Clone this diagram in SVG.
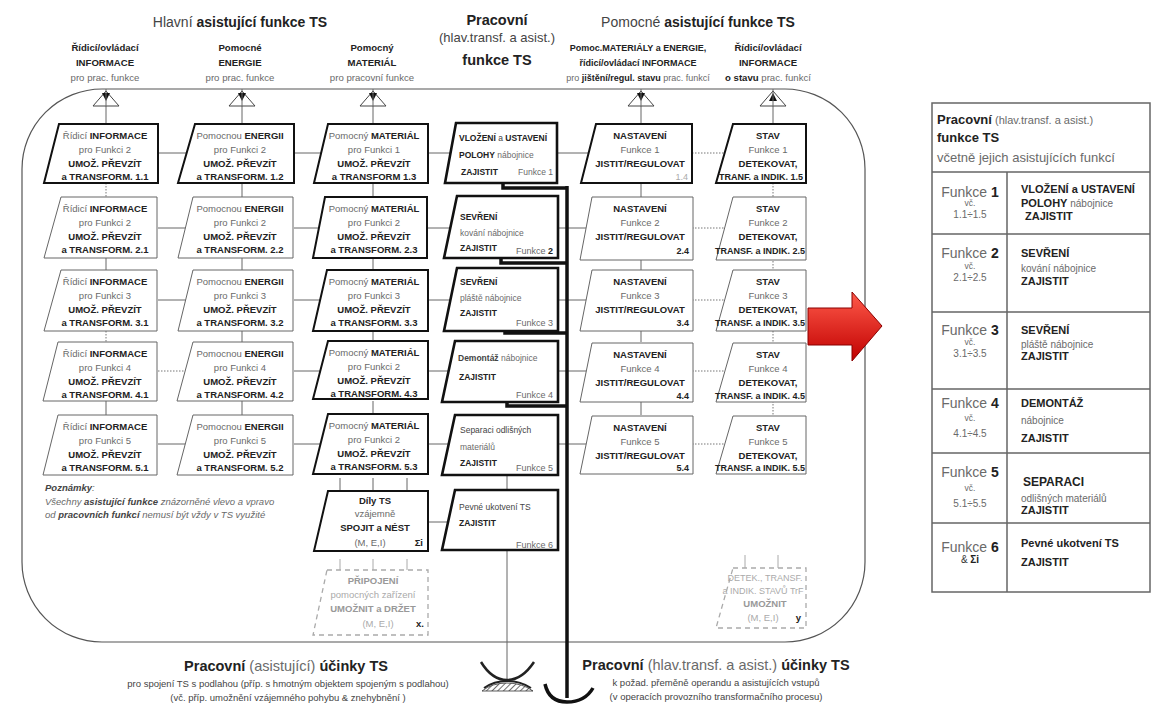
<svg xmlns="http://www.w3.org/2000/svg" width="1154" height="704" viewBox="0 0 1154 704">
<defs>
<style>
text{font-family:"Liberation Sans",Arial,sans-serif;fill:#444}
.b{font-weight:bold;fill:#222}
.g{fill:#6a6a6a}
.c{text-anchor:middle}
.e{text-anchor:end}
.s{font-size:9.5px}
.f{font-size:8.5px}
.h{font-size:9px}
.hh{font-size:9.6px}
.i{font-style:italic}
.p1{fill:#fff;stroke:#111;stroke-width:2}
.p2{fill:#fff;stroke:#666;stroke-width:1}
.pf{fill:#fff;stroke:#111;stroke-width:2.6}
.pd{fill:#fff;stroke:#aaa;stroke-width:1.3;stroke-dasharray:5 4}
.ln{stroke:#666;stroke-width:1;fill:none}
.dt{stroke:#777;stroke-width:1;stroke-dasharray:1.5 1.5;fill:none}
.tk{stroke:#111;stroke-width:3.5;fill:none}
.tri{fill:#fff;stroke:#444;stroke-width:1}
.tb{fill:none;stroke:#666;stroke-width:1.5}
</style>
<linearGradient id="rg" x1="0" y1="0" x2="0" y2="1"><stop offset="0" stop-color="#ff5a4a"/><stop offset="1" stop-color="#c00000"/></linearGradient>
<pattern id="hatch" width="4" height="4" patternUnits="userSpaceOnUse" patternTransform="rotate(45)"><line x1="0" y1="0" x2="0" y2="4" stroke="#333" stroke-width="1.4"/></pattern>
</defs>
<rect width="1154" height="704" fill="#fff"/>

<!-- frame -->
<path id="frame" d="M102 89 H785 A80 80 0 0 1 865 169 V562 A80 80 0 0 1 785 642 H102 A80 80 0 0 1 22 562 V169 A80 80 0 0 1 102 89 Z" fill="none" stroke="#555" stroke-width="1.2"/>

<!-- headers -->
<g id="headers">
<text x="240" y="27" class="c" font-size="14"><tspan>Hlavní </tspan><tspan class="b">asistující funkce TS</tspan></text>
<text x="698" y="27" class="c" font-size="14"><tspan>Pomocné </tspan><tspan class="b">asistující funkce TS</tspan></text>
<text x="497" y="25" class="c b" font-size="14.5">Pracovní</text>
<text x="497" y="42" class="c" font-size="13">(hlav.transf. a asist.)</text>
<text x="497" y="65" class="c b" font-size="14.5">funkce TS</text>
<g class="hh">
<text x="105" y="51" class="c b">Řídicí/ovládací</text><text x="105" y="66" class="c b">INFORMACE</text><text x="105" y="81" class="c g">pro prac. funkce</text>
<text x="240" y="51" class="c b">Pomocné</text><text x="240" y="66" class="c b">ENERGIE</text><text x="240" y="81" class="c g">pro prac. funkce</text>
<text x="372" y="51" class="c b">Pomocný</text><text x="372" y="66" class="c b">MATERIÁL</text><text x="372" y="81" class="c g">pro pracovní funkce</text>
<text x="638" y="51" class="c b" font-size="9">Pomoc.MATERIÁLY a ENERGIE,</text><text x="638" y="66" class="c b" font-size="9">řídicí/ovládací INFORMACE</text><text x="638" y="81" class="c" font-size="9"><tspan class="g">pro </tspan><tspan class="b">jištění/regul. stavu</tspan><tspan class="g"> prac. funkcí</tspan></text>
<text x="768" y="51" class="c b">Řídicí/ovládací</text><text x="768" y="66" class="c b">INFORMACE</text><text x="768" y="81" class="c"><tspan class="b">o stavu</tspan><tspan class="g"> prac. funkcí</tspan></text>
</g>
</g>

<!-- connectors -->
<g id="connectors">
<path class="ln" d="M106 89V124M242 89V124M373 89V124M641 89V124M773 89V124"/>
<path class="dt" d="M106 183V197M106 331V342"/>
<path class="ln" d="M106 258V270M106 401V415"/>
<path class="ln" d="M242 183V197M242 258V270M242 331V342M242 401V415"/>
<path class="ln" d="M373 183V197M373 258V270M373 331V342M373 401V415"/>
<path class="ln" d="M641 183V197M641 258V270M641 331V342M641 401V415"/>
<path class="dt" d="M773 183V197M773 258V270M773 331V342M773 401V415"/>
<path class="ln" d="M158 153H187M158 228H187M158 300H187M158 444H187"/>
<path class="dt" d="M158 371H187"/>
<path class="ln" d="M294 153H321M294 228H321M294 300H321M294 371H321M294 444H321"/>
<path class="ln" d="M428 153H450M428 228H450M428 300H450M428 371H450M428 444H450M428 522H450"/>
<path class="ln" d="M557 153H589M557 228H589M557 300H589M557 371H589M557 444H589"/>
<path class="dt" d="M692 153H725M692 228H725M692 300H725M692 371H725M692 444H725"/>
<path class="ln" d="M340 478V491M373 478V491M407 478V491" stroke="#999"/>
<path d="M340 559V570M373 559V570M407 559V570M745 555V568M778 555V568" stroke="#aaa" stroke-width="1" fill="none"/>
<path class="ln" d="M507 475V491M507 551V679"/>
<path class="tk" d="M503 183V188H567M501 258V263H567M505 331V333H567M507 401V406H567"/>
<path class="tk" d="M567 186V698"/>
<path class="tk" d="M545 684Q549 702 567 702Q585 702 593 688"/>
<path d="M482 691Q492 683 507 683Q522 683 533 691Z" fill="url(#hatch)" stroke="#333" stroke-width="0.8"/>
<path d="M481 662Q492 680 507 680Q522 680 534 662" fill="none" stroke="#222" stroke-width="2.5"/>
<path d="M484 688Q494 681 507 681Q520 681 531 688" fill="none" stroke="#222" stroke-width="2"/>
</g>

<!-- top triangles -->
<g id="triangles">
<path class="tri" d="M106 91L119 106H93Z"/><path d="M102 93H110L106 101Z" fill="#111"/>
<path class="tri" d="M242 91L255 106H229Z"/><path d="M238 93H246L242 101Z" fill="#111"/>
<path class="tri" d="M373 91L386 106H360Z"/><path d="M369 93H377L373 101Z" fill="#111"/>
<path class="tri" d="M641 91L654 106H628Z"/><path d="M637 93H645L641 101Z" fill="#111"/>
<path class="tri" d="M773 91L786 106H760Z"/><path d="M769 101H777L773 93Z" fill="#111"/>
<path class="ln" d="M106 91V106M242 91V106M373 91V106M641 91V106M773 91V106"/>
</g>

<!-- column 1 -->
<g id="n11"><path class="p1" d="M59 124H158V183H44Z"/><text class="s c" x="105" y="139"><tspan class="g">Řídicí </tspan><tspan class="b">INFORMACE</tspan></text><text class="s c g" x="105" y="153">pro Funkci 2</text><text class="s c b" x="105" y="167">UMOŽ. PŘEVZÍT</text><text class="s c b" x="105" y="180">a TRANSFORM.  1.1</text></g>
<g id="n21"><path class="p2" d="M61 197H157V258H44Z"/><text class="s c" x="105" y="212"><tspan class="g">Řídicí </tspan><tspan class="b">INFORMACE</tspan></text><text class="s c g" x="105" y="226">pro Funkci 2</text><text class="s c b" x="105" y="240">UMOŽ. PŘEVZÍT</text><text class="s c b" x="105" y="253">a TRANSFORM. 2.1</text></g>
<g id="n31"><path class="p2" d="M61 270H157V331H44Z"/><text class="s c" x="105" y="285"><tspan class="g">Řídicí </tspan><tspan class="b">INFORMACE</tspan></text><text class="s c g" x="105" y="299">pro Funkci 3</text><text class="s c b" x="105" y="313">UMOŽ. PŘEVZÍT</text><text class="s c b" x="105" y="326">a TRANSFORM. 3.1</text></g>
<g id="n41"><path class="p2" d="M58 342H157V401H43Z"/><text class="s c" x="105" y="357"><tspan class="g">Řídicí </tspan><tspan class="b">INFORMACE</tspan></text><text class="s c g" x="105" y="371">pro Funkci 4</text><text class="s c b" x="105" y="385">UMOŽ. PŘEVZÍT</text><text class="s c b" x="105" y="398">a TRANSFORM. 4.1</text></g>
<g id="n51"><path class="p2" d="M58 415H157V475H43Z"/><text class="s c" x="105" y="430"><tspan class="g">Řídicí </tspan><tspan class="b">INFORMACE</tspan></text><text class="s c g" x="105" y="444">pro Funkci 5</text><text class="s c b" x="105" y="458">UMOŽ. PŘEVZÍT</text><text class="s c b" x="105" y="471">a TRANSFORM. 5.1</text></g>

<!-- column 2 -->
<g id="n12"><path class="p1" d="M195 124H294V183H178Z"/><text class="s c" x="240" y="139"><tspan class="g">Pomocnou </tspan><tspan class="b">ENERGII</tspan></text><text class="s c g" x="240" y="153">pro Funkci 2</text><text class="s c b" x="240" y="167">UMOŽ. PŘEVZÍT</text><text class="s c b" x="240" y="180">a TRANSFORM.  1.2</text></g>
<g id="n22"><path class="p2" d="M193 197H293V258H178Z"/><text class="s c" x="240" y="212"><tspan class="g">Pomocnou </tspan><tspan class="b">ENERGII</tspan></text><text class="s c g" x="240" y="226">pro Funkci 2</text><text class="s c b" x="240" y="240">UMOŽ. PŘEVZÍT</text><text class="s c b" x="240" y="253">a TRANSFORM. 2.2</text></g>
<g id="n32"><path class="p2" d="M193 270H293V331H178Z"/><text class="s c" x="240" y="285"><tspan class="g">Pomocnou </tspan><tspan class="b">ENERGII</tspan></text><text class="s c g" x="240" y="299">pro Funkci 3</text><text class="s c b" x="240" y="313">UMOŽ. PŘEVZÍT</text><text class="s c b" x="240" y="326">a TRANSFORM. 3.2</text></g>
<g id="n42"><path class="p2" d="M193 342H293V401H177Z"/><text class="s c" x="240" y="357"><tspan class="g">Pomocnou </tspan><tspan class="b">ENERGII</tspan></text><text class="s c g" x="240" y="371">pro Funkci 4</text><text class="s c b" x="240" y="385">UMOŽ. PŘEVZÍT</text><text class="s c b" x="240" y="398">a TRANSFORM. 4.2</text></g>
<g id="n52"><path class="p2" d="M193 415H293V475H177Z"/><text class="s c" x="240" y="430"><tspan class="g">Pomocnou </tspan><tspan class="b">ENERGII</tspan></text><text class="s c g" x="240" y="444">pro Funkci 5</text><text class="s c b" x="240" y="458">UMOŽ. PŘEVZÍT</text><text class="s c b" x="240" y="471">a TRANSFORM. 5.2</text></g>

<!-- column 3 -->
<g id="n13"><path class="p1" d="M328 124H428V183H314Z"/><text class="s c" x="374" y="139"><tspan class="g">Pomocný </tspan><tspan class="b">MATERIÁL</tspan></text><text class="s c g" x="374" y="153">pro Funkci 1</text><text class="s c b" x="374" y="167">UMOŽ. PŘEVZÍT</text><text class="s c b" x="374" y="180">a TRANSFORM   1.3</text></g>
<g id="n23"><path class="p1" d="M325 197H427V258H313Z"/><text class="s c" x="374" y="212"><tspan class="g">Pomocný </tspan><tspan class="b">MATERIÁL</tspan></text><text class="s c g" x="374" y="226">pro Funkci 2</text><text class="s c b" x="374" y="240">UMOŽ. PŘEVZÍT</text><text class="s c b" x="374" y="253">a TRANSFORM.   2.3</text></g>
<g id="n33"><path class="p1" d="M327 270H428V331H313Z"/><text class="s c" x="374" y="285"><tspan class="g">Pomocný </tspan><tspan class="b">MATERIÁL</tspan></text><text class="s c g" x="374" y="299">pro Funkci 3</text><text class="s c b" x="374" y="313">UMOŽ. PŘEVZÍT</text><text class="s c b" x="374" y="326">a TRANSFORM.   3.3</text></g>
<g id="n43"><path class="p1" d="M328 341H428V399H313Z"/><text class="s c" x="374" y="356"><tspan class="g">Pomocný </tspan><tspan class="b">MATERIÁL</tspan></text><text class="s c g" x="374" y="370">pro Funkci 2</text><text class="s c b" x="374" y="384">UMOŽ. PŘEVZÍT</text><text class="s c b" x="374" y="397">a TRANSFORM.    4.3</text></g>
<g id="n53"><path class="p1" d="M328 414H428V474H313Z"/><text class="s c" x="374" y="429"><tspan class="g">Pomocný </tspan><tspan class="b">MATERIÁL</tspan></text><text class="s c g" x="374" y="443">pro Funkci 2</text><text class="s c b" x="374" y="457">UMOŽ. PŘEVZÍT</text><text class="s c b" x="374" y="470">a TRANSFORM.    5.3</text></g>
<g id="n63"><path class="p1" d="M328 491H428V551H314Z"/><text class="s c b" x="375" y="504">Díly TS</text><text class="s c g" x="375" y="517">vzájemně</text><text class="s c b" x="375" y="531">SPOJIT a NÉST</text><text class="s c g" x="370" y="546">(M, E,I)</text><text class="s e b" x="423" y="546">Σi</text></g>
<g id="n73"><path class="pd" d="M327 570H428V635H313Z"/><text class="s c b" x="373" y="584" style="fill:#999">PŘIPOJENÍ</text><text class="s c" x="373" y="598" style="fill:#aaa">pomocných zařízení</text><text class="s c b" x="373" y="612" style="fill:#999">UMOŽNIT a DRŽET</text><text class="s c" x="378" y="627" style="fill:#aaa">(M, E,I)</text><text class="s e b" x="424" y="627">x.</text></g>

<!-- working functions -->
<g id="f1"><path class="pf" d="M456 123H557V183H445Z"/><text class="f" x="459" y="141"><tspan class="b">VLOŽENÍ</tspan><tspan> a </tspan><tspan class="b">USTAVENÍ</tspan></text><text class="f" x="459" y="158"><tspan class="b">POLOHY</tspan><tspan class="g"> nábojnice</tspan></text><text class="f b" x="461" y="175">ZAJISTIT</text><text class="f e g" x="553" y="175">Funkce 1</text></g>
<g id="f2"><path class="pf" d="M457 196H558V258H444Z"/><text class="f b" x="460" y="220">SEVŘENÍ</text><text class="f g" x="460" y="236">kování nábojnice</text><text class="f b" x="460" y="251">ZAJISTIT</text><text class="h e" x="553" y="254"><tspan class="g">Funkce </tspan><tspan class="b">2</tspan></text></g>
<g id="f3"><path class="pf" d="M457 268H558V331H444Z"/><text class="f b" x="460" y="285">SEVŘENÍ</text><text class="f g" x="460" y="301">pláště nábojnice</text><text class="f b" x="460" y="316">ZAJISTIT</text><text class="h e g" x="553" y="326">Funkce 3</text></g>
<g id="f4"><path class="pf" d="M455 341H558V402H442Z"/><text class="f" x="458" y="361"><tspan class="b" style="fill:#444">Demontáž</tspan><tspan class="g"> nábojnice</tspan></text><text class="f b" x="459" y="380">ZAJISTIT</text><text class="h e g" x="553" y="398">Funkce 4</text></g>
<g id="f5"><path class="pf" d="M455 415H558V475H442Z"/><text class="f" x="460" y="433" style="fill:#444">Separaci odlišných</text><text class="f g" x="460" y="450" font-size="7.5">materiálů</text><text class="f b" x="460" y="466">ZAJISTIT</text><text class="h e g" x="553" y="471">Funkce 5</text></g>
<g id="f6"><path class="pf" d="M455 490H558V550H442Z"/><text class="f" x="459" y="510" style="fill:#444">Pevné ukotvení TS</text><text class="f b" x="459" y="526">ZAJISTIT</text><text class="h e g" x="553" y="548">Funkce  6</text></g>

<!-- column 5 -->
<g id="n14"><path class="p1" d="M596 124H692V183H581Z"/><text class="s c b" x="640" y="139">NASTAVENÍ</text><text class="s c g" x="640" y="153">Funkce 1</text><text class="s c b" x="640" y="167">JISTIT/REGULOVAT</text><text class="h e" x="688" y="180" style="fill:#aaa">1.4</text></g>
<g id="n24"><path class="p2" d="M592 197H693V260H580Z"/><text class="s c b" x="640" y="212">NASTAVENÍ</text><text class="s c g" x="640" y="226">Funkce 2</text><text class="s c b" x="640" y="240">JISTIT/REGULOVAT</text><text class="h e b" x="689" y="254">2.4</text></g>
<g id="n34"><path class="p2" d="M592 270H693V331H580Z"/><text class="s c b" x="640" y="285">NASTAVENÍ</text><text class="s c g" x="640" y="299">Funkce 3</text><text class="s c b" x="640" y="313">JISTIT/REGULOVAT</text><text class="h e b" x="689" y="326">3.4</text></g>
<g id="n44"><path class="p2" d="M592 343H693V402H580Z"/><text class="s c b" x="640" y="358">NASTAVENÍ</text><text class="s c g" x="640" y="372">Funkce 4</text><text class="s c b" x="640" y="386">JISTIT/REGULOVAT</text><text class="h e b" x="689" y="399">4.4</text></g>
<g id="n54"><path class="p2" d="M592 416H693V474H580Z"/><text class="s c b" x="640" y="431">NASTAVENÍ</text><text class="s c g" x="640" y="445">Funkce 5</text><text class="s c b" x="640" y="459">JISTIT/REGULOVAT</text><text class="h e b" x="689" y="471">5.4</text></g>

<!-- column 6 -->
<g id="n15"><path class="p1" d="M733 124H806V183H716Z"/><text class="s c b" x="768" y="139">STAV</text><text class="s c g" x="768" y="153">Funkce 1</text><text class="s c b" x="768" y="167">DETEKOVAT,</text><text class="h c b" x="761" y="180">TRANF. a INDIK. 1.5</text></g>
<g id="n25"><path class="p2" d="M733 197H806V260H716Z"/><text class="s c b" x="768" y="212">STAV</text><text class="s c g" x="768" y="226">Funkce 2</text><text class="s c b" x="768" y="240">DETEKOVAT,</text><text class="h c b" x="760" y="254">TRANSF. a INDIK. 2.5</text></g>
<g id="n35"><path class="p2" d="M733 270H806V331H716Z"/><text class="s c b" x="768" y="285">STAV</text><text class="s c g" x="768" y="299">Funkce 3</text><text class="s c b" x="768" y="313">DETEKOVAT,</text><text class="h c b" x="760" y="326">TRANSF. a INDIK. 3.5</text></g>
<g id="n45"><path class="p2" d="M733 343H806V402H716Z"/><text class="s c b" x="768" y="358">STAV</text><text class="s c g" x="768" y="372">Funkce 4</text><text class="s c b" x="768" y="386">DETEKOVAT,</text><text class="h c b" x="760" y="399">TRANSF. a INDIK. 4.5</text></g>
<g id="n55"><path class="p2" d="M733 416H806V474H716Z"/><text class="s c b" x="768" y="431">STAV</text><text class="s c g" x="768" y="445">Funkce 5</text><text class="s c b" x="768" y="459">DETEKOVAT,</text><text class="h c b" x="760" y="471">TRANSF. a INDIK. 5.5</text></g>
<g id="n65"><path class="pd" d="M733 568H806V628H716Z"/><text class="h c" x="765" y="581" style="fill:#aaa">DETEK., TRANSF.</text><text class="h c" x="763" y="594" style="fill:#aaa">a INDIK. STAVŮ TrF</text><text class="s c b" x="765" y="607" style="fill:#999">UMOŽNIT</text><text class="s c" x="763" y="621" style="fill:#aaa">(M, E,I)</text><text class="s e b" x="801" y="621">y</text></g>

<!-- notes -->
<g id="notes" font-size="9.5">
<text x="45" y="491" class="b i" style="fill:#444">Poznámky<tspan class="g" style="font-weight:normal">:</tspan></text>
<text x="45" y="505" class="i g"><tspan>Všechny </tspan><tspan class="b" style="fill:#444">asistující funkce</tspan><tspan> znázorněné vlevo a vpravo</tspan></text>
<text x="45" y="518" class="i g"><tspan>od </tspan><tspan class="b" style="fill:#444">pracovních funkcí</tspan><tspan> nemusí být vždy v TS využité</tspan></text>
</g>

<!-- bottom titles -->
<g id="bottom">
<text x="286" y="671" class="c" font-size="14.5"><tspan class="b">Pracovní</tspan><tspan class="g"> (asistující) </tspan><tspan class="b">účinky TS</tspan></text>
<text x="288" y="687" class="c" font-size="9.5">pro spojení TS s podlahou (příp. s hmotným  objektem spojeným s podlahou)</text>
<text x="288" y="701" class="c" font-size="9.5">(vč. příp. umožnění vzájemného pohybu &amp; znehybnění )</text>
<text x="716" y="670" class="c" font-size="14.5"><tspan class="b">Pracovní</tspan><tspan class="g"> (hlav.transf. a asist.) </tspan><tspan class="b">účinky TS</tspan></text>
<text x="716" y="686" class="c" font-size="9.5">k požad. přeměně operandu a  asistujících vstupů</text>
<text x="716" y="700" class="c" font-size="9.5">(v operacích provozního transformačního procesu)</text>
</g>

<!-- red arrow -->
<g id="arrow"><path d="M808 308H852V292L882 326L852 361V345H808Z" fill="url(#rg)" stroke="#8a0000" stroke-width="1"/></g>

<!-- summary table -->
<g id="table">
<rect class="tb" x="932" y="103" width="218" height="489" fill="#fff"/>
<path class="tb" d="M932 172H1150M932 234H1150M932 312H1150M932 389H1150M932 453H1150M932 523H1150M1007 172V592"/>
<text x="937" y="124"><tspan class="b" font-size="13">Pracovní</tspan><tspan class="g" font-size="11"> (hlav.transf. a asist.)</tspan></text>
<text x="937" y="142" class="b" font-size="13">funkce  TS</text>
<text x="937" y="162" class="g" font-size="13">včetně jejich asistujících funkcí</text>
<g font-size="14">
<text x="970" y="197" class="c"><tspan class="g">Funkce </tspan><tspan class="b">1</tspan></text>
<text x="970" y="258" class="c"><tspan class="g">Funkce </tspan><tspan class="b">2</tspan></text>
<text x="970" y="335" class="c"><tspan class="g">Funkce </tspan><tspan class="b">3</tspan></text>
<text x="970" y="408" class="c"><tspan class="g">Funkce </tspan><tspan class="b">4</tspan></text>
<text x="970" y="477" class="c"><tspan class="g">Funkce </tspan><tspan class="b">5</tspan></text>
<text x="970" y="552" class="c"><tspan class="g">Funkce </tspan><tspan class="b">6</tspan></text>
</g>
<g font-size="8.5">
<text x="970" y="206" class="c g">vč.</text><text x="970" y="218" class="c g" font-size="10">1.1÷1.5</text>
<text x="970" y="269" class="c g">vč.</text><text x="970" y="281" class="c g" font-size="10">2.1÷2.5</text>
<text x="970" y="345" class="c g">vč.</text><text x="970" y="357" class="c g" font-size="10">3.1÷3.5</text>
<text x="970" y="421" class="c g">vč.</text><text x="970" y="437" class="c g" font-size="10">4.1÷4.5</text>
<text x="970" y="491" class="c g">vč.</text><text x="970" y="507" class="c g" font-size="10">5.1÷5.5</text>
<text x="970" y="563" class="c" font-size="10" style="fill:#333">&amp; <tspan class="b">Σi</tspan></text>
</g>
<g font-size="11">
<text x="1021" y="193" class="b">VLOŽENÍ a USTAVENÍ</text>
<text x="1021" y="207"><tspan class="b">POLOHY</tspan><tspan class="g" font-size="10"> nábojnice</tspan></text>
<text x="1025" y="220" class="b">ZAJISTIT</text>
<text x="1021" y="257" class="b">SEVŘENÍ</text>
<text x="1021" y="272" class="g" font-size="10">kování nábojnice</text>
<text x="1021" y="285" class="b">ZAJISTIT</text>
<text x="1021" y="334" class="b">SEVŘENÍ</text>
<text x="1021" y="348" class="g" font-size="10">pláště nábojnice</text>
<text x="1021" y="360" class="b">ZAJISTIT</text>
<text x="1021" y="407" class="b">DEMONTÁŽ</text>
<text x="1021" y="424" class="g" font-size="10">nábojnice</text>
<text x="1021" y="442" class="b">ZAJISTIT</text>
<text x="1023" y="486" class="b" font-size="12">SEPARACI</text>
<text x="1021" y="502" class="g" font-size="10">odlišných materiálů</text>
<text x="1021" y="514" class="b">ZAJISTIT</text>
<text x="1021" y="547" class="b">Pevné ukotvení TS</text>
<text x="1021" y="566" class="b">ZAJISTIT</text>
</g>
</g>
</svg>
